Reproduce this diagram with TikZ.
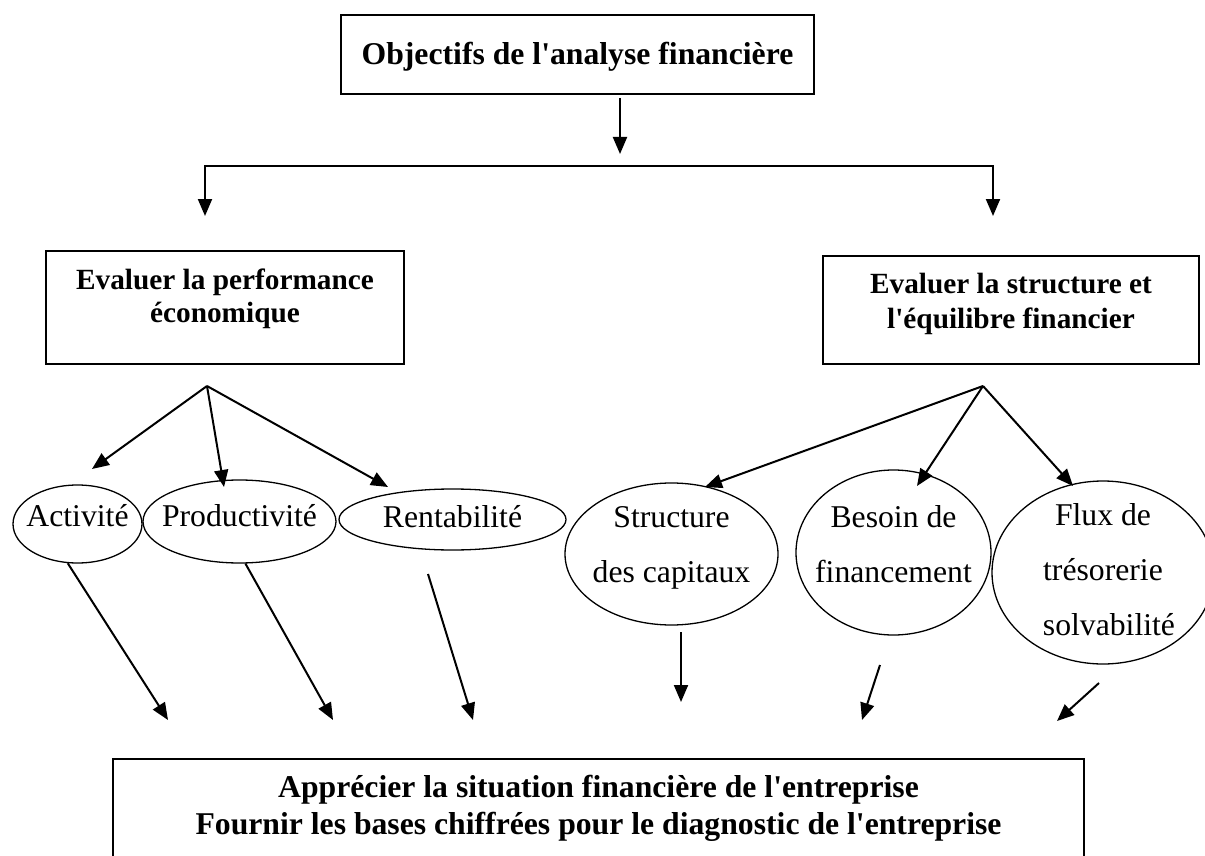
\documentclass[tikz,border=0pt]{standalone}
\usepackage{fontspec}
\setmainfont{Liberation Serif}[Ligatures={NoCommon}]
\usetikzlibrary{shapes.geometric,arrows.meta}

% straight apostrophe, as typed
\newcommand{\ap}{\textquotesingle}

\tikzset{
  x=1pt, y=-1pt,
  box/.style={draw, line width=2pt, inner sep=0pt, anchor=base},
  oval/.style={ellipse, draw, line width=1.3pt, inner sep=0pt,
               text height=0pt, text depth=0pt},
  tip/.style={Triangle[length=17pt,width=14pt]},
  arr/.style={line width=2pt, -{Triangle[length=17pt,width=14pt]}},
  dblarr/.style={line width=2pt, {Triangle[length=17pt,width=14pt]}-{Triangle[length=17pt,width=14pt]}},
}

\newcommand{\ovaltext}[1]{\makebox[0pt]{\parbox[t]{260pt}{\centering\fontsize{31.7}{55}\selectfont #1}}}

\begin{document}
\begin{tikzpicture}
\clip (0,0) rectangle (1205,856);
\fill[white] (0,0) rectangle (1205,856);

% ---- boxes ----
\node[box, text height=50pt, text depth=29pt] (obj) at (577.5,65)
  {\parbox[t]{473pt}{\centering\bfseries\fontsize{31.7}{36}\selectfont Objectifs de l\ap analyse financière}};

\node[box, text height=38pt, text depth=75pt] (perf) at (225,289)
  {\parbox[t]{358pt}{\centering\bfseries\fontsize{29.3}{33.5}\selectfont Evaluer la performance\\économique}};

\node[box, text height=37pt, text depth=71pt] (equil) at (1011,293)
  {\parbox[t]{376pt}{\centering\bfseries\fontsize{29.3}{35}\selectfont Evaluer la structure et\\l\ap équilibre financier}};

\node[box, text height=38pt, text depth=90pt] (appr) at (598.5,797)
  {\parbox[t]{971pt}{\centering\bfseries\fontsize{31.7}{37}\selectfont Apprécier la situation financière de l\ap entreprise\\Fournir les bases chiffrées pour le diagnostic de l\ap entreprise}};

% ---- ovals ----
\node[oval, minimum width=129pt, minimum height=78pt, text height=4pt] (act) at (77.5,524)
  {\ovaltext{Activité}};
\node[oval, minimum width=193pt, minimum height=83pt, text height=9pt] (prod) at (239.5,521.5)
  {\ovaltext{Productivité}};
\node[oval, minimum width=227pt, minimum height=61pt, text height=15pt] (rent) at (452.5,519.5)
  {\ovaltext{Rentabilité}};
\node[oval, minimum width=213pt, minimum height=142pt, text depth=54pt] (capi) at (671.5,554)
  {\ovaltext{Structure\\des capitaux}};
\node[oval, minimum width=195pt, minimum height=165pt, text depth=51pt] (besoin) at (893.5,552.5)
  {\ovaltext{Besoin de\\financement}};
\node[oval, minimum width=222pt, minimum height=183pt, text depth=95pt] (flux) at (1103,572.5)
  {\ovaltext{Flux de\\trésorerie\\\hspace*{12pt}solvabilité}};

% ---- connector end points ----
\coordinate (objOut) at (620,98);
\coordinate (objIn)  at (620,154);
\coordinate (brL)    at (205,166);
\coordinate (brR)    at (993,166);
\coordinate (brLtip) at (205,216);
\coordinate (brRtip) at (993,216);

\coordinate (apexL) at (207,386);
\coordinate (toAct)  at (92,469);
\coordinate (toProd) at (224,487);
\coordinate (toRent) at (388,487);

\coordinate (apexR) at (983,386);
\coordinate (toCapi)   at (705,487);
\coordinate (toBesoin) at (917,486);
\coordinate (toFlux)   at (1073,486);

\coordinate (rentOut)   at (428,574);
\coordinate (capiOut)   at (681,632);
\coordinate (besoinOut) at (880,665);
\coordinate (fluxOut)   at (1099,683);

\coordinate (inAct)    at (168,720);
\coordinate (inProd)   at (333,720);
\coordinate (inRent)   at (473,720);
\coordinate (inCapi)   at (681,702);
\coordinate (inBesoin) at (862,720);
\coordinate (inFlux)   at (1057,721);

% ---- connectors ----
\draw[arr] (objOut) -- (objIn);
\draw[dblarr] (brLtip) -- (brL) -- (brR) -- (brRtip);

\draw[arr] (apexL) -- (toAct);
\draw[arr] (apexL) -- (toProd);
\draw[arr] (apexL) -- (toRent);

\draw[arr] (apexR) -- (toCapi);
\draw[arr] (apexR) -- (toBesoin);
\draw[arr] (apexR) -- (toFlux);

\draw[arr] (act.256) -- (inAct);
\draw[arr] (prod.278) -- (inProd);
\draw[arr] (rentOut) -- (inRent);
\draw[arr] (capiOut) -- (inCapi);
\draw[arr] (besoinOut) -- (inBesoin);
\draw[arr] (fluxOut) -- (inFlux);
\end{tikzpicture}
\end{document}
